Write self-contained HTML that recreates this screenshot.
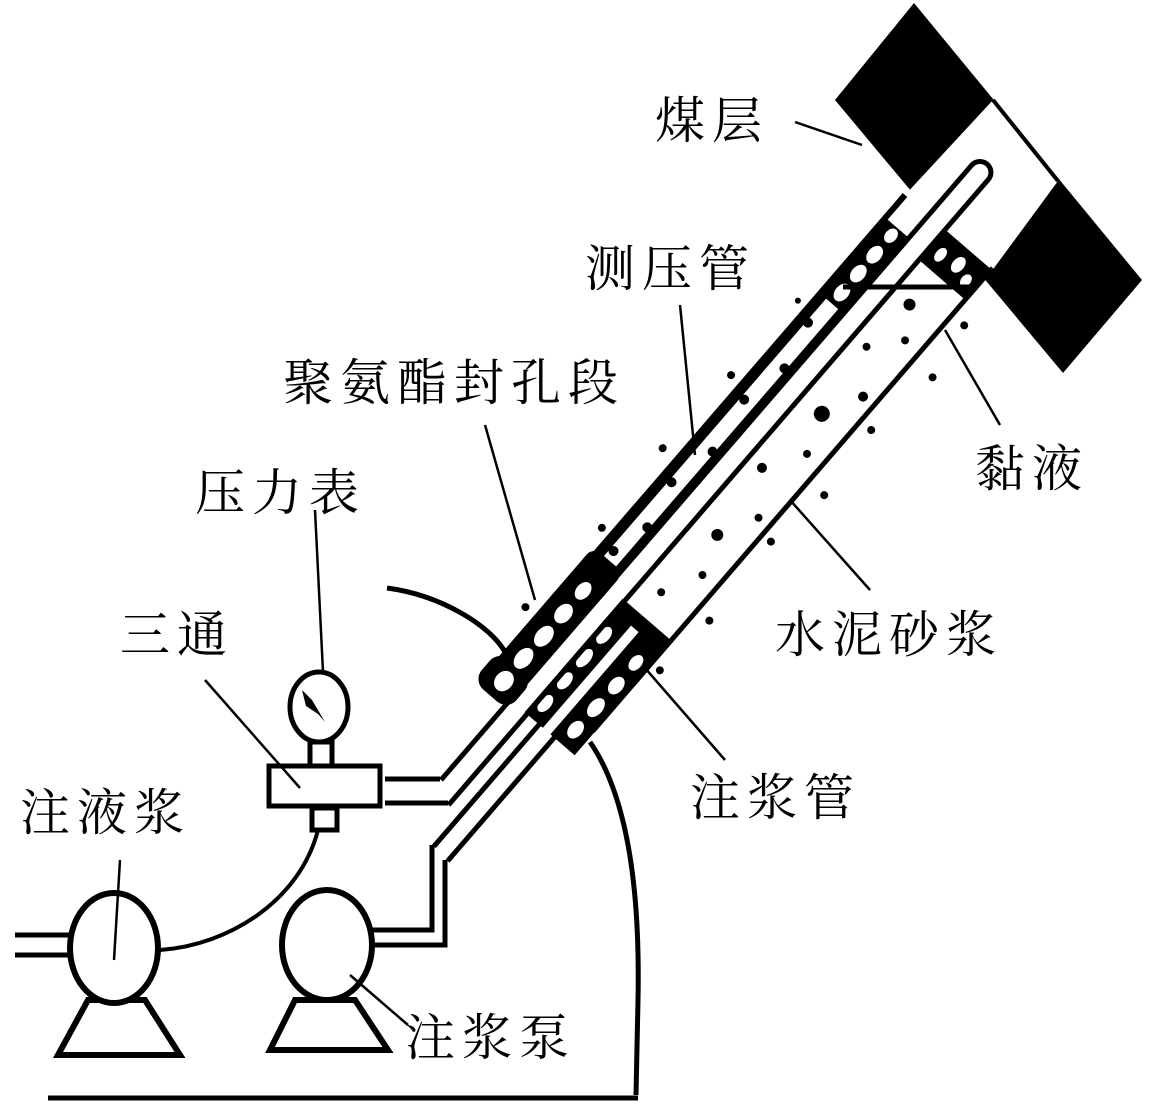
<!DOCTYPE html>
<html><head><meta charset="utf-8"><style>
html,body{margin:0;padding:0;background:#fff;}
svg{display:block}
text{font-family:"Liberation Serif","Noto Serif CJK SC","Noto Sans CJK SC",serif;font-size:50px;letter-spacing:7px;fill:#000}
</style></head><body>
<svg width="1153" height="1116" viewBox="0 0 1153 1116" xmlns="http://www.w3.org/2000/svg">
<rect width="1153" height="1116" fill="#fff"/>
<!-- coal seam -->
<polygon points="835,100 914,3 1142,280 1063,373" fill="#000"/>
<polygon points="905,195 993,100 1058,181 980,287" fill="#fff"/>
<line x1="993" y1="100" x2="1058" y2="181" stroke="#000" stroke-width="4"/>
<g transform="translate(905,195) rotate(-49.2)" stroke="#000" fill="none">
  <!-- sealed hatch near top, upper channel -->
  <rect x="-130" y="2" width="100" height="28" fill="#000" stroke="none"/>
  <g fill="#fff" stroke="none">
    <ellipse cx="-115" cy="16" rx="10" ry="7"/><ellipse cx="-90" cy="16" rx="10" ry="7"/><ellipse cx="-65" cy="16" rx="10" ry="7"/><ellipse cx="-40" cy="16" rx="8" ry="6"/>
  </g>
  <g fill="#000" stroke="none">
    <rect x="-480" y="0" width="440" height="8"/>
    <rect x="-480" y="24" width="440" height="6"/>
    <circle cx="-160" cy="10" r="5"/><circle cx="-210" cy="22" r="5"/><circle cx="-260" cy="12" r="5"/><circle cx="-320" cy="22" r="5"/><circle cx="-370" cy="11" r="5"/><circle cx="-420" cy="22" r="5"/><circle cx="-460" cy="12" r="5"/>
  </g>
  <!-- polyurethane at mouth -->
  <rect x="-640" y="-6" width="170" height="40" rx="10" fill="#000" stroke="none"/>
  <rect x="-650" y="-10" width="40" height="46" rx="14" fill="#000" stroke="none"/>
  <g fill="#fff" stroke="none">
    <ellipse cx="-630" cy="14" rx="11" ry="9"/><ellipse cx="-600" cy="14" rx="12" ry="8"/><ellipse cx="-570" cy="15" rx="12" ry="8"/><ellipse cx="-540" cy="15" rx="11" ry="8"/><ellipse cx="-510" cy="15" rx="10" ry="7"/>
  </g>
  <!-- mucus band -->
  <rect x="-40" y="52" width="40" height="60" fill="#000" stroke="none"/>
  <g fill="#fff" stroke="none">
    <ellipse cx="-22" cy="66" rx="8" ry="5"/><ellipse cx="-18" cy="86" rx="9" ry="6"/><ellipse cx="-25" cy="102" rx="7" ry="5"/>
  </g>
  <!-- hatch between tubes at mouth -->
  <rect x="-640" y="50" width="150" height="66" fill="#000" stroke="none"/>
  <g fill="#fff" stroke="none">
    <ellipse cx="-620" cy="60" rx="10" ry="6"/><ellipse cx="-590" cy="60" rx="10" ry="6"/><ellipse cx="-560" cy="60" rx="11" ry="6"/><ellipse cx="-530" cy="60" rx="10" ry="6"/>
    <ellipse cx="-620" cy="100" rx="10" ry="7"/><ellipse cx="-590" cy="101" rx="11" ry="7"/><ellipse cx="-560" cy="102" rx="10" ry="7"/><ellipse cx="-530" cy="102" rx="9" ry="6"/>
  </g>
  <!-- walls -->
  <line x1="-630" y1="0" x2="0" y2="0" stroke-width="6"/>
  <line x1="-610" y1="114" x2="2" y2="114" stroke-width="5"/>
  <!-- measuring tube -->
  <path d="M-746,31 L66,31 A11,11 0 0 1 66,53 L-760,53" stroke-width="5" fill="none"/>
  <rect x="-746" y="36" width="812" height="12" fill="#fff" stroke="none"/>
  <!-- grouting tube -->
  <path d="M-801,69 L-505,69 A10,10 0 0 1 -505,89 L-803,89" stroke-width="5" fill="none"/>
  <rect x="-800" y="74" width="295" height="10" fill="#fff" stroke="none"/>
  <!-- mortar dots -->
  <g fill="#000" stroke="none">
    <circle cx="-80" cy="75" r="6"/><circle cx="-110" cy="95" r="4"/><circle cx="-140" cy="70" r="4"/><circle cx="-180" cy="100" r="5"/><circle cx="-220" cy="80" r="8"/><circle cx="-260" cy="95" r="4"/><circle cx="-300" cy="70" r="5"/><circle cx="-340" cy="100" r="4"/><circle cx="-380" cy="80" r="6"/><circle cx="-420" cy="95" r="4"/><circle cx="-460" cy="75" r="4"/>
    <circle cx="-60" cy="130" r="4"/><circle cx="-120" cy="140" r="4"/><circle cx="-200" cy="128" r="4"/><circle cx="-280" cy="135" r="4"/><circle cx="-350" cy="125" r="4"/><circle cx="-450" cy="130" r="4"/><circle cx="-520" cy="125" r="4"/>
    <circle cx="-250" cy="-14" r="4"/><circle cx="-350" cy="-18" r="4"/><circle cx="-450" cy="-12" r="4"/><circle cx="-560" cy="-18" r="4"/><circle cx="-150" cy="-12" r="3"/>
  </g>
</g>
<!-- mucus top line -->
<line x1="843" y1="287" x2="978" y2="287" stroke="#000" stroke-width="5"/>
<!-- measuring tube to tee -->
<polyline points="440,779 385,779" stroke="#000" stroke-width="5" fill="none"/>
<polyline points="448,803 385,803" stroke="#000" stroke-width="5" fill="none"/>
<!-- grouting tube to pump -->
<polyline points="432,845 432,930 372,930" stroke="#000" stroke-width="5" fill="none"/>
<polyline points="445,860 445,945 372,945" stroke="#000" stroke-width="5" fill="none"/>
<!-- tee, gauge -->
<rect x="269" y="766" width="111" height="40" fill="#fff" stroke="#000" stroke-width="5"/>
<rect x="310" y="742" width="22" height="24" fill="#fff" stroke="#000" stroke-width="5"/>
<rect x="312" y="808" width="25" height="22" fill="#fff" stroke="#000" stroke-width="5"/>
<ellipse cx="319" cy="707" rx="29" ry="35" fill="#fff" stroke="#000" stroke-width="5"/>
<polygon points="302,690 312,700 325,722 318,714 306,706" fill="#000"/>
<!-- curve tee to pump1 -->
<path d="M318,830 C300,900 230,945 160,950" stroke="#000" stroke-width="4" fill="none"/>
<!-- curves -->
<path d="M387,588 C440,595 490,625 505,652" stroke="#000" stroke-width="5" fill="none"/>
<path d="M590,742 C630,800 640,900 638,1000 L636,1095" stroke="#000" stroke-width="5" fill="none"/>
<line x1="48" y1="1098" x2="638" y2="1098" stroke="#000" stroke-width="5"/>
<!-- pumps -->
<line x1="15" y1="935" x2="72" y2="935" stroke="#000" stroke-width="5"/>
<line x1="15" y1="955" x2="72" y2="955" stroke="#000" stroke-width="5"/>
<polygon points="88,1000 145,1000 180,1055 58,1055" fill="#fff" stroke="#000" stroke-width="6"/>
<ellipse cx="114" cy="948" rx="44" ry="55" fill="#fff" stroke="#000" stroke-width="6"/>
<polygon points="295,1000 355,1000 388,1050 270,1050" fill="#fff" stroke="#000" stroke-width="6"/>
<ellipse cx="327" cy="945" rx="45" ry="55" fill="#fff" stroke="#000" stroke-width="6"/>
<!-- leaders -->
<g stroke="#000" stroke-width="2.5">
<line x1="795" y1="122" x2="862" y2="145"/>
<line x1="680" y1="305" x2="695" y2="455"/>
<line x1="485" y1="425" x2="535" y2="600"/>
<line x1="315" y1="510" x2="323" y2="672"/>
<line x1="205" y1="680" x2="300" y2="788"/>
<line x1="120" y1="860" x2="114" y2="960"/>
<line x1="945" y1="330" x2="1000" y2="425"/>
<line x1="790" y1="500" x2="870" y2="590"/>
<line x1="645" y1="668" x2="725" y2="760"/>
<line x1="350" y1="975" x2="408" y2="1025"/>
</g>
<!-- labels -->
<text x="655" y="138">煤层</text>
<text x="585" y="286">测压管</text>
<text x="283" y="400">聚氨酯封孔段</text>
<text x="195" y="510">压力表</text>
<text x="120" y="652">三通</text>
<text x="20" y="830">注液浆</text>
<text x="975" y="486">黏液</text>
<text x="775" y="652">水泥砂浆</text>
<text x="690" y="815">注浆管</text>
<text x="405" y="1055">注浆泵</text>
</svg>
</body></html>
